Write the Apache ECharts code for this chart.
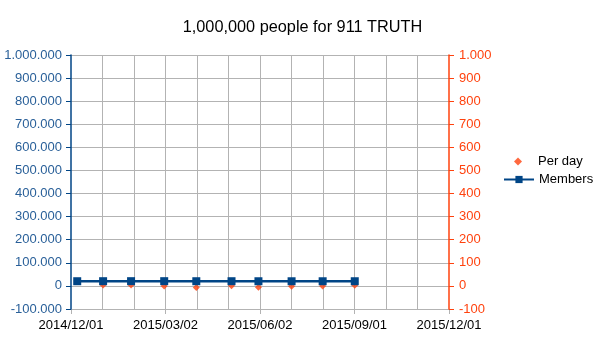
<!DOCTYPE html>
<html>
<head>
<meta charset="utf-8">
<script src="https://cdn.jsdelivr.net/npm/echarts@6/dist/echarts.min.js"></script>
<style>
html,body{margin:0;padding:0;background:#fff;}
#chart{width:605px;height:340px;}
</style>
</head>
<body>
<div id="chart"></div>
<script>
var startDate = '2014-12-01';
var endDate = '2015-12-01';
var dates = ['2014-12-07','2015-01-01','2015-01-28','2015-03-01','2015-04-01','2015-05-05','2015-05-31','2015-07-02','2015-08-01','2015-09-01'];
var members = [20300, 20400, 20500, 20500, 20300, 20330, 20180, 20150, 20150, 20240];
var perDay = [null, 4, 4, 0, -7, 1, -6, -1, 0, 3];
var xTickLabels = ['2014/12/01','2015/03/02','2015/06/02','2015/09/01','2015/12/01'];
var leftTicks = {min: -100000, max: 1000000, step: 100000};
var rightTicks = {min: -100, max: 1000, step: 100};

var DAY = 86400000;
function dayOffset(d){ return (Date.parse(d) - Date.parse(startDate)) / DAY; }
var totalDays = dayOffset(endDate);
function fmt(v){
  var s = String(Math.abs(Math.round(v))).replace(/\B(?=(\d{3})+(?!\d))/g, '.');
  return (v < 0 ? '-' : '') + s;
}
var membersData = dates.map(function(d,i){ return [dayOffset(d), members[i]]; });
var perDayData = [];
dates.forEach(function(d,i){ if (perDay[i] !== null) perDayData.push([dayOffset(d), perDay[i]]); });

var font = 'Liberation Sans';
var chart = echarts.init(document.getElementById('chart'), null, {renderer:'canvas'});
chart.setOption({
  animation: false,
  backgroundColor: '#ffffff',
  title: {
    text: '1,000,000 people for 911 TRUTH',
    left: 'center', top: 15,
    textStyle: {fontFamily: font, fontSize: 16.3, fontWeight: 'normal', color: '#000'}
  },
  legend: [{
    data: [{name: 'Per day', icon: 'path://M0,0M30,8M11,4L15,0L19,4L15,8Z'}],
    orient: 'vertical', left: 503, top: 155, padding: 0,
    itemWidth: 30, itemHeight: 8,
    textStyle: {fontFamily: font, fontSize: 13, color: '#000'}
  },{
    data: ['Members'],
    orient: 'vertical', left: 503, top: 173, padding: 0,
    itemWidth: 30, itemHeight: 9,
    textStyle: {fontFamily: font, fontSize: 13, color: '#000'}
  }],
  grid: {left: 71, right: 156, top: 55, bottom: 31, containLabel: false},
  xAxis: [{
    type: 'value', min: 0, max: totalDays, interval: totalDays / 12, z: 0,
    axisLine: {show: true, onZero: false, lineStyle: {color: '#b3b3b3'}},
    axisTick: {show: false},
    axisLabel: {show: false},
    splitLine: {show: true, showMinLine: false, showMaxLine: false, lineStyle: {color: '#b3b3b3', width: 1}}
  },{
    type: 'value', min: 0, max: totalDays, interval: totalDays / 4, z: 0,
    position: 'bottom',
    axisLine: {show: false, onZero: false},
    axisTick: {show: true, length: 5, lineStyle: {color: '#b3b3b3'}},
    axisLabel: {
      show: true, margin: 10, color: '#000', fontFamily: font, fontSize: 13,
      showMinLabel: true, showMaxLabel: true,
      formatter: function(v){ return xTickLabels[Math.round(v / (totalDays/4))] || ''; }
    },
    splitLine: {show: false}
  }],
  yAxis: [{
    type: 'value', position: 'left', z: 3,
    min: leftTicks.min, max: leftTicks.max, interval: leftTicks.step,
    axisLine: {show: true, onZero: false, lineStyle: {color: '#004586', width: 1.5}},
    axisTick: {show: true, length: 5, lineStyle: {color: '#004586'}},
    axisLabel: {margin: 9, color: '#2a6099', fontFamily: font, fontSize: 13, formatter: fmt},
    splitLine: {show: true, lineStyle: {color: '#b3b3b3', width: 1}}
  },{
    type: 'value', position: 'right', z: 3,
    min: rightTicks.min, max: rightTicks.max, interval: rightTicks.step,
    axisLine: {show: true, onZero: false, lineStyle: {color: '#ff420e', width: 1.5}},
    axisTick: {show: true, length: 5, lineStyle: {color: '#ff420e'}},
    axisLabel: {margin: 10, color: '#ff420e', fontFamily: font, fontSize: 13, formatter: fmt},
    splitLine: {show: false}
  }],
  series: [{
    name: 'Per day', type: 'scatter', xAxisIndex: 0, yAxisIndex: 1, z: 4,
    symbol: 'diamond', symbolSize: 7,
    itemStyle: {color: '#ff420e'},
    data: perDayData
  },{
    name: 'Members', type: 'line', xAxisIndex: 0, yAxisIndex: 0, z: 5,
    symbol: 'rect', symbolSize: 8, showSymbol: true,
    itemStyle: {color: '#004586'},
    lineStyle: {color: '#004586', width: 2.5},
    data: membersData
  }]
});
</script>
</body>
</html>
